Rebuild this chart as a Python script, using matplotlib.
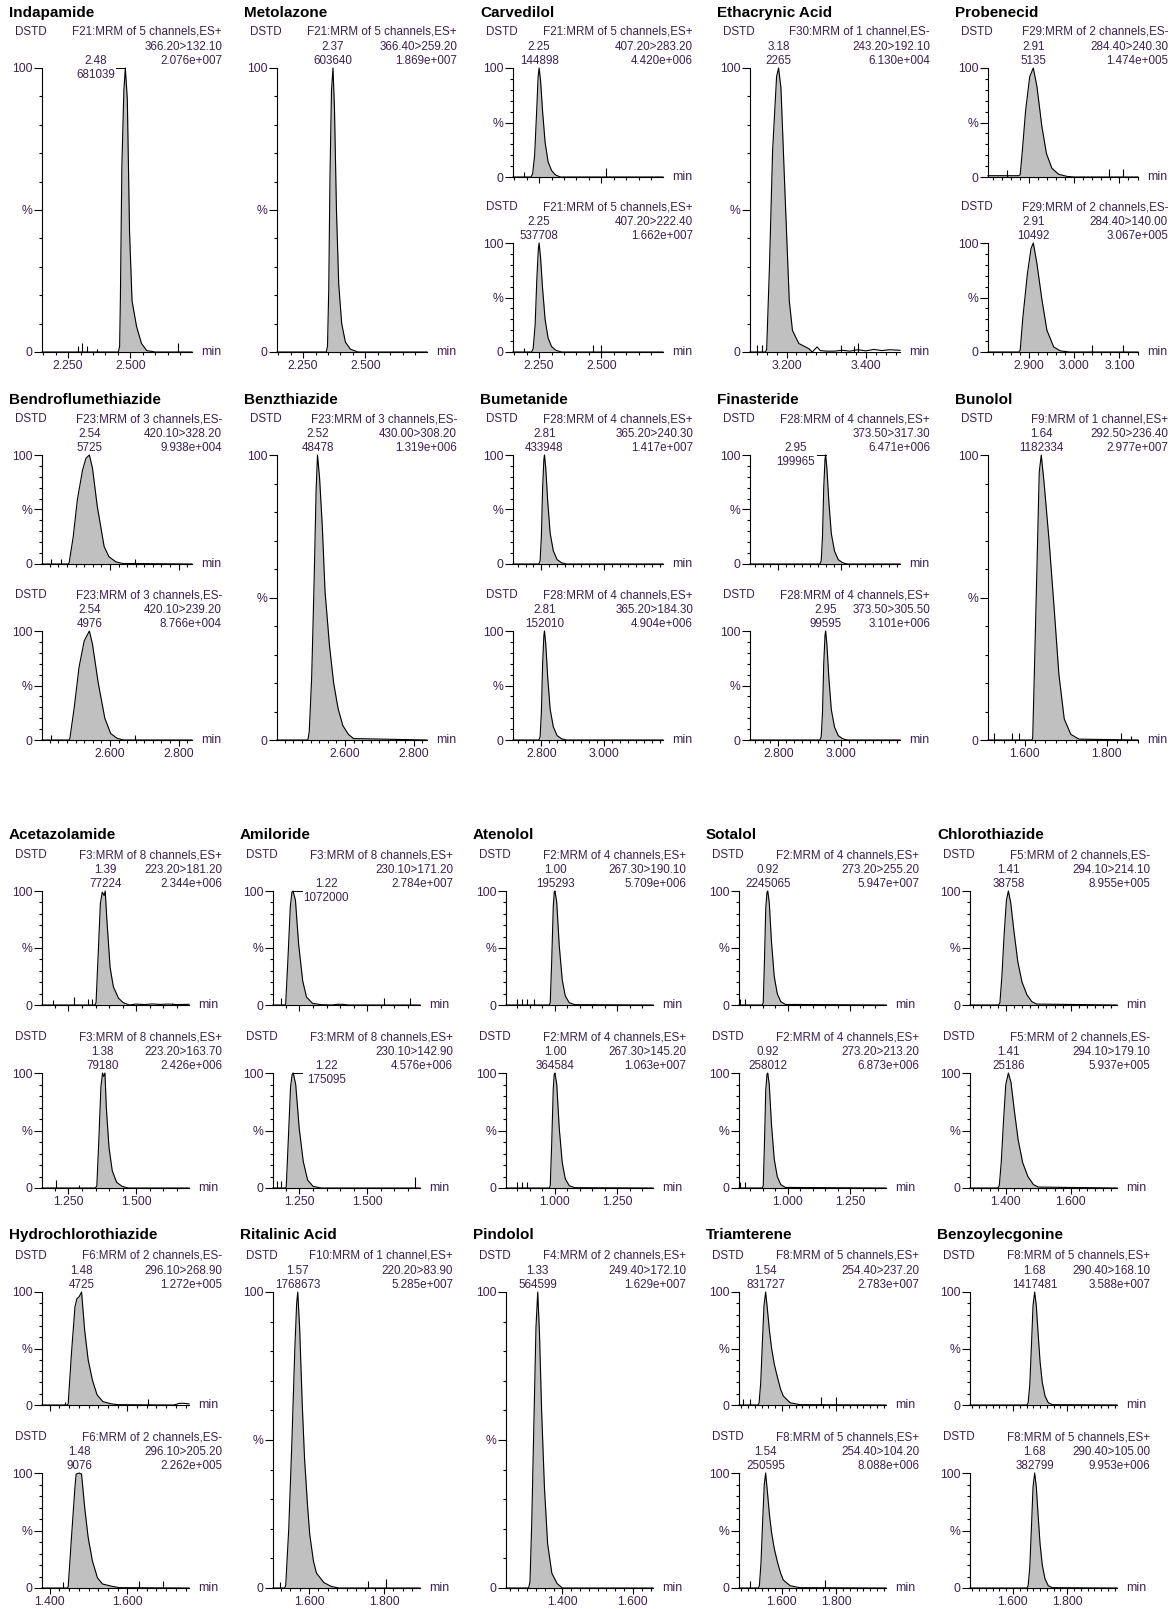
import matplotlib
matplotlib.use("Agg")
import matplotlib.pyplot as plt
from matplotlib.ticker import MultipleLocator, FormatStrFormatter

# ---------------- data ----------------
compounds = ["Indapamide", "Metolazone", "Carvedilol", "Ethacrynic Acid", "Probenecid",
             "Bendroflumethiazide", "Benzthiazide", "Bumetanide", "Finasteride", "Bunolol",
             "Acetazolamide", "Amiloride", "Atenolol", "Sotalol", "Chlorothiazide",
             "Hydrochlorothiazide", "Ritalinic Acid", "Pindolol", "Triamterene", "Benzoylecgonine"]

functions = ["F21:MRM of 5 channels,ES+", "F21:MRM of 5 channels,ES+", "F21:MRM of 5 channels,ES+",
             "F30:MRM of 1 channel,ES-", "F29:MRM of 2 channels,ES-",
             "F23:MRM of 3 channels,ES-", "F23:MRM of 3 channels,ES-", "F28:MRM of 4 channels,ES+",
             "F28:MRM of 4 channels,ES+", "F9:MRM of 1 channel,ES+",
             "F3:MRM of 8 channels,ES+", "F3:MRM of 8 channels,ES+", "F2:MRM of 4 channels,ES+",
             "F2:MRM of 4 channels,ES+", "F5:MRM of 2 channels,ES-",
             "F6:MRM of 2 channels,ES-", "F10:MRM of 1 channel,ES+", "F4:MRM of 2 channels,ES+",
             "F8:MRM of 5 channels,ES+", "F8:MRM of 5 channels,ES+"]

transitions = [["366.20>132.10"], ["366.40>259.20"], ["407.20>283.20", "407.20>222.40"],
               ["243.20>192.10"], ["284.40>240.30", "284.40>140.00"],
               ["420.10>328.20", "420.10>239.20"], ["430.00>308.20"], ["365.20>240.30", "365.20>184.30"],
               ["373.50>317.30", "373.50>305.50"], ["292.50>236.40"],
               ["223.20>181.20", "223.20>163.70"], ["230.10>171.20", "230.10>142.90"],
               ["267.30>190.10", "267.30>145.20"], ["273.20>255.20", "273.20>213.20"],
               ["294.10>214.10", "294.10>179.10"],
               ["296.10>268.90", "296.10>205.20"], ["220.20>83.90"], ["249.40>172.10"],
               ["254.40>237.20", "254.40>104.20"], ["290.40>168.10", "290.40>105.00"]]

intensities = [["2.076e+007"], ["1.869e+007"], ["4.420e+006", "1.662e+007"], ["6.130e+004"],
               ["1.474e+005", "3.067e+005"],
               ["9.938e+004", "8.766e+004"], ["1.319e+006"], ["1.417e+007", "4.904e+006"],
               ["6.471e+006", "3.101e+006"], ["2.977e+007"],
               ["2.344e+006", "2.426e+006"], ["2.784e+007", "4.576e+006"], ["5.709e+006", "1.063e+007"],
               ["5.947e+007", "6.873e+006"], ["8.955e+005", "5.937e+005"],
               ["1.272e+005", "2.262e+005"], ["5.285e+007"], ["1.629e+007"],
               ["2.783e+007", "8.088e+006"], ["3.588e+007", "9.953e+006"]]

peak_rts = [["2.48"], ["2.37"], ["2.25", "2.25"], ["3.18"], ["2.91", "2.91"],
            ["2.54", "2.54"], ["2.52"], ["2.81", "2.81"], ["2.95", "2.95"], ["1.64"],
            ["1.39", "1.38"], ["1.22", "1.22"], ["1.00", "1.00"], ["0.92", "0.92"], ["1.41", "1.41"],
            ["1.48", "1.48"], ["1.57"], ["1.33"], ["1.54", "1.54"], ["1.68", "1.68"]]

peak_areas = [["681039"], ["603640"], ["144898", "537708"], ["2265"], ["5135", "10492"],
              ["5725", "4976"], ["48478"], ["433948", "152010"], ["199965", "99595"], ["1182334"],
              ["77224", "79180"], ["1072000", "175095"], ["195293", "364584"], ["2245065", "258012"],
              ["38758", "25186"],
              ["4725", "9076"], ["1768673"], ["564599"], ["831727", "250595"], ["1417481", "382799"]]

# where the peak label sits: c = above apex, l = left of apex, r = right of apex
label_side = [["l"], ["c"], ["c", "c"], ["c"], ["c", "c"],
              ["c", "c"], ["c"], ["c", "c"], ["l", "c"], ["c"],
              ["c", "c"], ["r", "r"], ["c", "c"], ["c", "c"], ["c", "c"],
              ["c", "c"], ["c"], ["c"], ["c", "c"], ["c", "c"]]

# time axis (min) of every compound
x_lo = [2.145, 2.145, 2.145, 3.108, 2.810, 2.402, 2.402, 2.710, 2.710, 1.510,
        1.152, 1.152, 0.805, 0.805, 1.290, 1.380, 1.504, 1.240, 1.442, 1.442]
x_hi = [2.748, 2.748, 2.748, 3.486, 3.141, 2.839, 2.839, 3.186, 3.186, 1.876,
        1.696, 1.696, 1.393, 1.393, 1.742, 1.759, 1.896, 1.657, 1.983, 1.983]
x_major = [0.25, 0.25, 0.25, 0.2, 0.1, 0.2, 0.2, 0.2, 0.2, 0.2,
           0.25, 0.25, 0.25, 0.25, 0.2, 0.2, 0.2, 0.2, 0.2, 0.2]
x_minor = [0.05, 0.05, 0.05, 0.025, 0.02, 0.025, 0.025, 0.025, 0.025, 0.025,
           0.05, 0.05, 0.05, 0.05, 0.025, 0.025, 0.025, 0.025, 0.025, 0.025]

# chromatogram traces: time (min) and relative intensity (%)
inda_t = [2.145, 2.452, 2.457, 2.460, 2.466, 2.474, 2.480, 2.488, 2.497, 2.507, 2.525, 2.545, 2.566, 2.600, 2.748]
inda_y = [0, 0, 2, 18, 65, 92, 100, 89, 42, 18, 9, 3, 0.5, 0, 0]
meto_t = [2.145, 2.343, 2.348, 2.353, 2.358, 2.364, 2.370, 2.376, 2.384, 2.393, 2.405, 2.420, 2.440, 2.470, 2.748]
meto_y = [0, 0, 2, 22, 62, 92, 100, 86, 50, 24, 10, 3.5, 1, 0, 0]
carv_a_t = [2.145, 2.218, 2.224, 2.232, 2.240, 2.246, 2.250, 2.256, 2.264, 2.274, 2.286, 2.300, 2.315, 2.335, 2.748]
carv_a_y = [0, 0, 3, 20, 60, 92, 100, 88, 60, 32, 14, 6, 2, 0, 0]
carv_b_t = [2.145, 2.220, 2.226, 2.234, 2.241, 2.247, 2.250, 2.256, 2.264, 2.274, 2.286, 2.300, 2.318, 2.340, 2.748]
carv_b_y = [0, 0, 3, 25, 68, 95, 100, 86, 58, 30, 13, 5, 1.5, 0, 0]
etha_t = [3.108, 3.147, 3.150, 3.157, 3.165, 3.175, 3.180, 3.186, 3.197, 3.207, 3.215, 3.231, 3.256, 3.265,
          3.277, 3.285, 3.300, 3.320, 3.340, 3.360, 3.380, 3.400, 3.420, 3.440, 3.460, 3.486]
etha_y = [0, 0, 1, 30, 71, 97, 100, 93, 53, 18, 7.6, 3, 1.2, 0,
          1.8, 0.5, 0.3, 0.3, 0.6, 0.3, 0.8, 0.4, 0.9, 0.5, 0.8, 0.6]
prob_a_t = [2.810, 2.878, 2.881, 2.886, 2.893, 2.902, 2.910, 2.918, 2.929, 2.939, 2.951, 2.966, 2.985, 3.000, 3.141]
prob_a_y = [1.2, 1.2, 2, 25, 61, 92, 100, 83, 46, 21.5, 8, 2.5, 0.5, 0, 0]
prob_b_t = [2.810, 2.878, 2.881, 2.887, 2.897, 2.905, 2.910, 2.918, 2.929, 2.940, 2.955, 2.970, 2.990, 3.141]
prob_b_y = [0, 0, 1.5, 32, 72, 95, 100, 81, 48, 20, 4.6, 1, 0, 0]
bend_a_t = [2.402, 2.478, 2.481, 2.493, 2.505, 2.520, 2.530, 2.540, 2.549, 2.563, 2.583, 2.597, 2.617, 2.636, 2.839]
bend_a_y = [0, 0, 1, 25, 59, 86, 97, 100, 88, 53, 16, 6.7, 2, 0.5, 0]
bend_b_t = [2.402, 2.480, 2.483, 2.496, 2.510, 2.525, 2.540, 2.549, 2.566, 2.585, 2.602, 2.621, 2.640, 2.839]
bend_b_y = [0, 0, 1, 30, 67, 91, 100, 88, 52, 20, 6, 1.5, 0, 0]
benz_t = [2.402, 2.492, 2.496, 2.503, 2.510, 2.516, 2.520, 2.526, 2.534, 2.542, 2.555, 2.567, 2.580, 2.594,
          2.610, 2.625, 2.839]
benz_y = [0, 0, 3, 22, 55, 88, 100, 92, 75, 52, 33, 20, 11, 5, 2, 0.5, 0]
bume_t = [2.710, 2.792, 2.796, 2.800, 2.804, 2.808, 2.810, 2.814, 2.820, 2.828, 2.838, 2.850, 2.865, 2.880, 3.186]
bume_y = [0, 0, 3, 25, 70, 96, 100, 88, 58, 28, 12, 4, 1, 0, 0]
fina_t = [2.710, 2.932, 2.936, 2.940, 2.944, 2.948, 2.950, 2.954, 2.960, 2.968, 2.978, 2.990, 3.005, 3.020, 3.186]
fina_y = [0, 0, 3, 25, 70, 96, 100, 88, 58, 28, 12, 4, 1, 0, 0]
buno_t = [1.510, 1.617, 1.619, 1.623, 1.629, 1.635, 1.640, 1.647, 1.659, 1.671, 1.683, 1.696, 1.712, 1.732, 1.876]
buno_y = [0, 0, 0.5, 23, 58, 94, 100, 90, 70, 47, 23, 7.4, 2, 0.3, 0]
acet_a_t = [1.152, 1.348, 1.352, 1.360, 1.368, 1.375, 1.382, 1.386, 1.392, 1.404, 1.416, 1.435, 1.453, 1.470,
            1.475, 1.500, 1.530, 1.560, 1.590, 1.620, 1.650, 1.696]
acet_a_y = [0, 0, 2, 45, 89, 99, 96, 100, 75, 33, 16, 6, 2, 0.5, 0, 0.8, 0.4, 0.9, 0.5, 0.8, 0.4, 0.6]
acet_b_t = [1.152, 1.350, 1.355, 1.362, 1.370, 1.376, 1.380, 1.385, 1.390, 1.400, 1.412, 1.428, 1.448, 1.470, 1.696]
acet_b_y = [0, 0, 2, 40, 88, 100, 97, 100, 70, 35, 15, 5, 1.5, 0, 0]
amil_a_t = [1.152, 1.196, 1.199, 1.207, 1.216, 1.222, 1.226, 1.235, 1.247, 1.262, 1.276, 1.298, 1.330, 1.370,
            1.390, 1.410, 1.430, 1.696]
amil_a_y = [0, 0, 1, 39, 86, 99, 100, 92, 53, 21, 7, 1.5, 0.3, 0, 0.6, 0.6, 0, 0]
amil_b_t = [1.152, 1.198, 1.201, 1.209, 1.217, 1.223, 1.227, 1.236, 1.249, 1.264, 1.280, 1.300, 1.330, 1.696]
amil_b_y = [0, 0, 1, 44, 88, 99, 100, 90, 52, 23, 7, 1.5, 0, 0]
aten_t = [0.805, 0.978, 0.982, 0.988, 0.994, 0.998, 1.001, 1.008, 1.018, 1.030, 1.042, 1.058, 1.080, 1.393]
aten_y = [0, 0, 2, 40, 86, 99, 100, 90, 52, 22, 8, 2, 0.3, 0]
sota_t = [0.805, 0.898, 0.902, 0.907, 0.912, 0.917, 0.920, 0.926, 0.935, 0.946, 0.958, 0.972, 0.990, 1.393]
sota_y = [0, 0, 2, 40, 85, 99, 100, 90, 55, 25, 10, 3, 0.5, 0]
chlo_a_t = [1.290, 1.378, 1.382, 1.388, 1.395, 1.402, 1.408, 1.415, 1.425, 1.437, 1.450, 1.465, 1.480, 1.495, 1.742]
chlo_a_y = [0, 0, 2, 25, 62, 92, 100, 90, 65, 38, 20, 9, 3, 0.8, 0]
chlo_b_t = [1.290, 1.376, 1.380, 1.386, 1.393, 1.400, 1.408, 1.416, 1.426, 1.438, 1.452, 1.468, 1.485, 1.500, 1.742]
chlo_b_y = [0, 0, 2, 22, 58, 90, 100, 92, 68, 42, 22, 10, 3, 0.8, 0]
hctz_a_t = [1.380, 1.445, 1.4475, 1.456, 1.465, 1.470, 1.476, 1.482, 1.490, 1.499, 1.510, 1.522, 1.537, 1.559,
            1.575, 1.720, 1.735, 1.745, 1.759]
hctz_a_y = [0, 0, 1, 46, 87, 94, 96, 100, 66, 40, 22, 9, 3, 1, 0.3, 0, 1.5, 1.5, 1]
hctz_b_t = [1.380, 1.445, 1.4475, 1.456, 1.465, 1.468, 1.476, 1.482, 1.490, 1.499, 1.510, 1.523, 1.536, 1.560,
            1.580, 1.759]
hctz_b_y = [0, 0, 1, 44, 88, 99, 100, 99, 70, 44, 23.5, 8.8, 3.5, 1.5, 0.3, 0]
rita_t = [1.504, 1.535, 1.538, 1.546, 1.554, 1.562, 1.567, 1.570, 1.575, 1.582, 1.588, 1.596, 1.602, 1.612,
          1.620, 1.640, 1.660, 1.680, 1.896]
rita_y = [0, 0, 1, 20, 48, 80, 96, 100, 88, 62, 44, 28, 18, 9, 5, 1.8, 0.5, 0, 0]
pind_t = [1.240, 1.304, 1.308, 1.313, 1.319, 1.325, 1.330, 1.335, 1.341, 1.349, 1.358, 1.370, 1.385, 1.400, 1.657]
pind_y = [0, 0, 2, 22, 55, 88, 100, 86, 60, 34, 15, 5, 1.5, 0, 0]
tria_a_t = [1.442, 1.512, 1.516, 1.522, 1.528, 1.534, 1.540, 1.546, 1.554, 1.562, 1.572, 1.583, 1.595, 1.605,
            1.630, 1.665, 1.983]
tria_a_y = [0, 0, 2, 20, 55, 88, 100, 86, 66, 50, 36, 25, 14, 8, 2, 0.3, 0]
tria_b_t = [1.442, 1.513, 1.517, 1.523, 1.529, 1.535, 1.540, 1.546, 1.554, 1.562, 1.572, 1.583, 1.595, 1.605,
            1.630, 1.665, 1.983]
tria_b_y = [0, 0, 2, 22, 58, 90, 100, 85, 64, 48, 34, 23, 13, 7, 2, 0.3, 0]
bzec_t = [1.442, 1.652, 1.656, 1.662, 1.668, 1.674, 1.680, 1.686, 1.693, 1.700, 1.708, 1.718, 1.730, 1.745, 1.983]
bzec_y = [0, 0, 2, 18, 52, 88, 100, 88, 62, 38, 20, 8, 2, 0.3, 0]

traces = [[(inda_t, inda_y)], [(meto_t, meto_y)], [(carv_a_t, carv_a_y), (carv_b_t, carv_b_y)],
          [(etha_t, etha_y)], [(prob_a_t, prob_a_y), (prob_b_t, prob_b_y)],
          [(bend_a_t, bend_a_y), (bend_b_t, bend_b_y)], [(benz_t, benz_y)], [(bume_t, bume_y), (bume_t, bume_y)],
          [(fina_t, fina_y), (fina_t, fina_y)], [(buno_t, buno_y)],
          [(acet_a_t, acet_a_y), (acet_b_t, acet_b_y)], [(amil_a_t, amil_a_y), (amil_b_t, amil_b_y)],
          [(aten_t, aten_y), (aten_t, aten_y)], [(sota_t, sota_y), (sota_t, sota_y)],
          [(chlo_a_t, chlo_a_y), (chlo_b_t, chlo_b_y)],
          [(hctz_a_t, hctz_a_y), (hctz_b_t, hctz_b_y)], [(rita_t, rita_y)], [(pind_t, pind_y)],
          [(tria_a_t, tria_a_y), (tria_b_t, tria_b_y)], [(bzec_t, bzec_y), (bzec_t, bzec_y)]]

# short noise spikes on the baseline: times (min) and heights (%)
spike_t = [[[2.289, 2.304, 2.325, 2.368, 2.691]], [[]], [[2.19, 2.52], [2.19, 2.466, 2.497]],
           [[3.125, 3.137, 3.337, 3.37, 3.38]], [[2.852, 3.077, 3.107], [3.040, 3.107]],
           [[2.428, 2.457, 2.674], [2.427, 2.674]], [[]], [[], []], [[], []],
           [[1.524, 1.569, 1.585, 1.835, 1.86]],
           [[1.193, 1.272, 1.323, 1.338, 1.634], [1.205, 1.289]], [[1.18, 1.564, 1.658], [1.165, 1.18, 1.677]],
           [[0.849, 0.869, 0.889, 0.917], [0.849, 0.869, 0.889]], [[0.81, 0.83], [0.81, 0.83]], [[], []],
           [[1.439, 1.653], [1.435, 1.631, 1.691]], [[1.522, 1.757, 1.804]], [[]],
           [[1.458, 1.483, 1.742, 1.798], [1.483, 1.760]], [[], []]]
spike_h = [[[2, 3, 2, 1, 3]], [[]], [[5, 8], [4, 6, 6]],
           [[2.5, 2.5, 2.5, 2, 3]], [[6, 7, 7], [6, 6]],
           [[5, 5, 5], [5, 5]], [[]], [[], []], [[], []],
           [[2.5, 2.5, 2.5, 2.5, 1.5]],
           [[4, 7, 5, 5, 2], [7, 3]], [[6, 6, 6], [6, 6, 10]],
           [[5, 5, 5, 5], [5, 5, 5]], [[5, 5], [5, 5]], [[], []],
           [[3, 5], [5, 6, 6]], [[2, 2.5, 3]], [[]],
           [[5, 5, 7, 7], [6, 7]], [[], []]]

# ---------------- page layout (pixels) ----------------
W, H = 1174, 1609
col_left = [[42, 277, 513, 750, 988], [42, 273, 506, 739, 970]]
axis_w = [150, 147]
# title y, panel1 top/bottom, panel2 top/bottom for each block row
row_geom = [(13, 68, 177, 243, 352), (400, 455, 564, 631, 740),
            (835, 891, 1005, 1073, 1188), (1235, 1292, 1405, 1473, 1588)]

txt = "#3c2150"
fs = 8.4
tick_fs = 8.8
plt.rcParams['font.family'] = ['Liberation Sans', 'DejaVu Sans']

fig = plt.figure(figsize=(W / 100, H / 100), dpi=100)


def fx(x):
    return x / W


def fy(y):
    return 1 - y / H


for i, name in enumerate(compounds):
    row, col = divmod(i, 5)
    half = row // 2
    left = col_left[half][col]
    width = axis_w[half]
    title_y, t1, b1, t2, b2 = row_geom[row]
    chans = traces[i]
    boxes = [(t1, b2)] if len(chans) == 1 else [(t1, b1), (t2, b2)]

    fig.text(fx(left - 33), fy(title_y), name, fontsize=11, fontweight='bold',
             color='black', ha='left', va='center')

    for k, ((t, y), (top, bot)) in enumerate(zip(chans, boxes)):
        ax = fig.add_axes([fx(left), fy(bot), width / W, (bot - top) / H])
        ax.set_xlim(x_lo[i], x_hi[i])
        ax.set_ylim(0, 100)
        ax.patch.set_alpha(0)
        for s in ("top", "right"):
            ax.spines[s].set_visible(False)
        for s in ("left", "bottom"):
            ax.spines[s].set_linewidth(0.8)

        # integrated peak area in grey
        ip = y.index(max(y))
        a, b = ip, ip
        while a > 0 and y[a - 1] > 0:
            a -= 1
        while b < len(y) - 1 and y[b + 1] > 0:
            b += 1
        a0, b0 = max(a - 1, 0), min(b + 2, len(y))
        ax.fill_between(t[a0:b0], 0, y[a0:b0], color="#c0c0c0", lw=0, clip_on=False)
        ax.plot(t, y, color="black", lw=0.8, clip_on=False)
        if spike_t[i][k]:
            ax.vlines(spike_t[i][k], 0, spike_h[i][k], colors="black", lw=0.8)

        # axes ticks
        ax.set_yticks([0, 50, 100])
        ax.set_yticklabels(["0", "%", "100"])
        ax.yaxis.set_minor_locator(MultipleLocator(10))
        ax.xaxis.set_major_locator(MultipleLocator(x_major[i]))
        ax.xaxis.set_minor_locator(MultipleLocator(x_minor[i]))
        ax.xaxis.set_major_formatter(FormatStrFormatter("%.3f"))
        ax.tick_params(axis="y", which="major", length=5.5, width=0.8, pad=1.2,
                       labelsize=tick_fs, labelcolor=txt, direction="out")
        ax.tick_params(axis="y", which="minor", length=2.2, width=0.8, direction="out")
        ax.tick_params(axis="x", which="major", length=4.2, width=0.8, pad=1.5,
                       labelsize=tick_fs, labelcolor=txt, direction="out")
        ax.tick_params(axis="x", which="minor", length=2.3, width=0.8, direction="out")
        if k < len(chans) - 1:
            ax.tick_params(axis="x", labelbottom=False)

        fig.text(fx(left + width + 9), fy(bot), "min", fontsize=tick_fs, color=txt, ha="left", va="center")

        # header lines
        fig.text(fx(left - 27), fy(top - 36), "DSTD", fontsize=fs, color=txt, ha="left", va="center")
        fig.text(fx(left + 180), fy(top - 36), functions[i], fontsize=fs, color=txt, ha="right", va="center")
        fig.text(fx(left + 180), fy(top - 21), transitions[i][k], fontsize=fs, color=txt, ha="right", va="center")
        fig.text(fx(left + 180), fy(top - 7), intensities[i][k], fontsize=fs, color=txt, ha="right", va="center")

        # peak label
        tp = t[ip]
        px_per_min = width / (x_hi[i] - x_lo[i])
        side = label_side[i][k]
        if side == "c":
            dx, d1, d2 = 0, 21, 7
        elif side == "l":
            dx, d1, d2 = -30, 7, -7
            ax.plot([tp - 9 / px_per_min, tp], [100, 100], color="black", lw=0.7, clip_on=False)
        else:
            dx, d1, d2 = 33, 7, -7
            ax.plot([tp, tp + 9 / px_per_min], [100, 100], color="black", lw=0.7, clip_on=False)
        ax.annotate(peak_rts[i][k], xy=(tp, 100), xytext=(dx, d1), textcoords="offset pixels",
                    ha="center", va="center", fontsize=fs, color=txt)
        ax.annotate(peak_areas[i][k], xy=(tp, 100), xytext=(dx, d2), textcoords="offset pixels",
                    ha="center", va="center", fontsize=fs, color=txt)

fig.savefig("out.png", dpi=100, facecolor="white")
